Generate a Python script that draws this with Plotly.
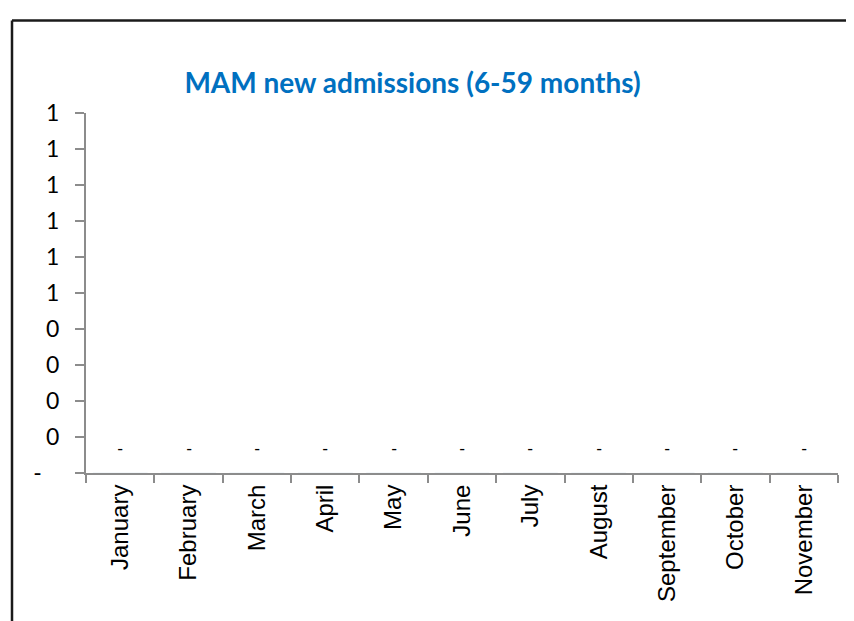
import plotly.graph_objects as go

months = ["January", "February", "March", "April", "May", "June", "July",
          "August", "September", "October", "November"]
admissions = [0, 0, 0, 0, 0, 0, 0, 0, 0, 0, 0]
y_ticks = [0, 0.1, 0.2, 0.3, 0.4, 0.5, 0.6, 0.7, 0.8, 0.9, 1.0]
y_tick_labels = ["-\u00a0\u00a0\u00a0", "0", "0", "0", "0", "1", "1", "1", "1", "1", "1"]
title_text = "MAM new admissions (6-59 months)"


def fmt(v):
    return "-" if v == 0 else f"{v:,.0f}"


# the page body has an 8px margin; size the figure so it fits the window
OFF = 8
W, H = 854 - OFF, 621 - OFF

fig = go.Figure()
fig.add_trace(go.Bar(x=months, y=admissions, marker_color="#4472C4",
                     hoverinfo="x+y", showlegend=False))

for m, v in zip(months, admissions):
    fig.add_annotation(x=m, y=v, text=fmt(v), showarrow=False, yshift=25,
                       font=dict(family="Lato", size=17, color="black"))

axis_col = "#8c8c8c"
fig.update_layout(
    width=W, height=H,
    margin=dict(l=86 - OFF, r=16, t=113 - OFF, b=148),
    paper_bgcolor="white", plot_bgcolor="white",
    title=dict(text=f"<b>{title_text}</b>", x=(412.5 - OFF) / W, xref="container",
               xanchor="center", y=1 - (83 - OFF) / H, yref="container", yanchor="middle",
               font=dict(family="Lato", size=28, color="#0070C0")),
    xaxis=dict(range=[-0.5, 10.5], showline=True, linecolor=axis_col, linewidth=2,
               ticks="outside", tickson="boundaries", ticklen=8, tickwidth=2,
               tickcolor=axis_col, tickangle=-90, showgrid=False, zeroline=False,
               tickfont=dict(family="Liberation Sans", size=24, color="black")),
    yaxis=dict(range=[0, 1], showline=True, linecolor=axis_col, linewidth=2,
               ticks="outside", ticklen=9, tickwidth=2, tickcolor=axis_col,
               tickvals=y_ticks, ticktext=y_tick_labels, showgrid=False,
               zeroline=False, ticklabelstandoff=11,
               tickfont=dict(family="Lato", size=23, color="black")),
    shapes=[
        dict(type="line", xref="paper", yref="paper",
             x0=(12 - 86) / 752, x1=(880 - 86) / 752,
             y0=(473 - 20.5) / 360, y1=(473 - 20.5) / 360,
             line=dict(color="#1a1a1a", width=2.5)),
        dict(type="line", xref="paper", yref="paper",
             x0=(12 - 86) / 752, x1=(12 - 86) / 752,
             y0=(473 - 20.5) / 360, y1=(473 - 640) / 360,
             line=dict(color="#1a1a1a", width=2.5)),
    ],
)

fig.write_html("out.html")
